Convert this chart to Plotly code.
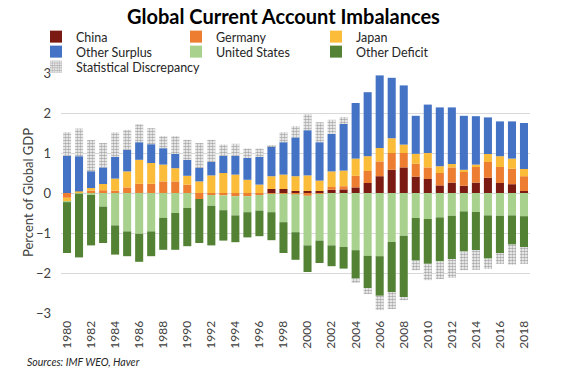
import plotly.graph_objects as go

years = list(range(1980, 2019))

china = [0, 0, 0, 0, 0, 0, 0, 0, 0, 0, 0, 0, 0, 0, 0, 0, 0,
         0.1, 0.1, 0.05, 0.05, 0.05, 0.08, 0.09, 0.14, 0.25, 0.42, 0.58, 0.64,
         0.41, 0.35, 0.19, 0.26, 0.18, 0.26, 0.38, 0.25, 0.22, 0.05]
germany = [-0.12, 0.01, 0.06, 0.07, 0.06, 0.14, 0.23, 0.23, 0.29, 0.29, 0.21,
           -0.15, -0.05, -0.06, -0.08, -0.08, -0.05, -0.02, -0.02, -0.03, -0.07,
           -0.02, 0.07, 0.08, 0.29, 0.3, 0.37, 0.42, 0.36, 0.32, 0.29, 0.31,
           0.38, 0.36, 0.39, 0.395, 0.4, 0.39, 0.37]
japan = [-0.09, 0.03, 0.065, 0.155, 0.3, 0.4, 0.6, 0.52, 0.42, 0.33, 0.22,
         0.29, 0.44, 0.5, 0.46, 0.33, 0.21, 0.32, 0.36, 0.37, 0.39, 0.26, 0.39,
         0.39, 0.43, 0.37, 0.335, 0.37, 0.21, 0.25, 0.36, 0.17, 0.085, 0.04,
         0.06, 0.2, 0.27, 0.25, 0.18]
other_surplus = [0.93, 0.88, 0.42, 0.415, 0.545, 0.54, 0.44, 0.47, 0.41, 0.36,
                 0.4, 0.335, 0.335, 0.43, 0.47, 0.545, 0.69, 0.75, 0.81, 0.97,
                 1.13, 0.96, 0.94, 1.17, 1.39, 1.6, 1.815, 1.51, 1.48, 0.95,
                 1.21, 1.47, 1.415, 1.35, 1.21, 0.915, 0.87, 0.93, 1.15]
united_states = [-0.02, -0.02, -0.05, -0.34, -0.81, -0.96, -1.02, -0.96, -0.62,
                 -0.5, -0.375, 0.0, -0.27, -0.37, -0.48, -0.4, -0.39, -0.46,
                 -0.71, -0.95, -1.24, -1.17, -1.31, -1.35, -1.43, -1.57, -1.58,
                 -1.225, -1.07, -0.625, -0.65, -0.61, -0.57, -0.46, -0.475,
                 -0.56, -0.57, -0.56, -0.58]
other_deficit = [-1.27, -1.59, -1.26, -0.91, -0.73, -0.62, -0.7, -0.62, -0.8,
                 -0.92, -0.955, -1.1, -0.99, -0.76, -0.67, -0.63, -0.64, -0.7,
                 -0.77, -0.69, -0.665, -0.56, -0.52, -0.54, -0.71, -0.805, -0.99,
                 -1.25, -1.53, -1.065, -1.12, -1.1, -1.08, -1.0, -0.955, -1.08,
                 -0.93, -0.73, -0.77]
stat_disc = [0.59, 0.69, 0.78, 0.61, 0.61, 0.5, 0.45, 0.4, 0.3, 0.44, 0.5,
             0.625, 0.555, 0.28, 0.3, 0.235, 0.21, 0.02, 0.25, 0.28, 0.4, 0.5,
             0.35, 0.17, -0.11, -0.15, -0.36, -0.425, -0.08, -0.24, -0.41,
             -0.44, -0.475, -0.47, -0.49, -0.26, -0.27, -0.5, -0.42]

tick_years = list(range(1980, 2019, 2))
tick_labels = [str(y) for y in tick_years]

# (name, values, colour, legend row)
series = [
    ("China", china, "#7B1A12", "legend"),
    ("Germany", germany, "#ED7D31", "legend"),
    ("Japan", japan, "#FBBC3A", "legend"),
    ("Other Surplus", other_surplus, "#4472C4", "legend2"),
    ("United States", united_states, "#A9D18E", "legend2"),
    ("Other Deficit", other_deficit, "#548235", "legend2"),
]

FONT = "Lato"
fig = go.Figure()
for name, vals, col, lg in series:
    fig.add_trace(go.Bar(x=years, y=vals, name=name, legend=lg,
                         marker=dict(color=col, line=dict(width=0))))
fig.add_trace(go.Bar(
    x=years, y=stat_disc, name="Statistical Discrepancy", legend="legend3",
    marker=dict(color="white", line=dict(width=0),
                pattern=dict(shape=".", fgcolor="#555555", bgcolor="white",
                             size=3, solidity=0.6))))


def leg(ypix, width=95):
    return dict(orientation="h", xref="container", yref="container",
                x=36 / 567, xanchor="left", y=1 - ypix / 380,
                yanchor="middle", entrywidth=width, entrywidthmode="pixels",
                font=dict(family=FONT, size=12.5, color="#262626"),
                itemwidth=30, traceorder="normal", bgcolor="rgba(0,0,0,0)")


fig.update_layout(
    width=567, height=380,
    barmode="relative", bargap=0.33,
    paper_bgcolor="white", plot_bgcolor="white",
    margin=dict(l=61, r=37, t=73, b=67, autoexpand=False),
    font=dict(family=FONT, size=12, color="#262626"),
    title=dict(text="<b>Global Current Account Imbalances</b>",
               x=0.5, xanchor="center", y=1 - 17 / 380, yanchor="middle",
               font=dict(family=FONT, size=20, color="#000000")),
    showlegend=True,
    legend=leg(37), legend2=leg(52), legend3=leg(67, 200),
    xaxis=dict(range=[1979.5, 2018.5], tickmode="array", tickvals=tick_years,
               ticktext=tick_labels, tickangle=-90, showgrid=False,
               zeroline=False, showline=False, automargin=False,
               ticks="outside", ticklen=2, tickcolor="rgba(0,0,0,0)",
               tickfont=dict(family=FONT, size=12, color="#404040")),
    yaxis=dict(range=[-3, 3], dtick=1, showgrid=True, gridcolor="#D9D9D9",
               gridwidth=1, zeroline=False, showline=False, automargin=False,
               ticks="", ticklabelstandoff=9,
               tickfont=dict(family=FONT, size=13, color="#404040")),
)

fig.add_annotation(text="Percent of Global GDP", xref="paper", yref="paper",
                   x=(28 - 61) / 469, xanchor="center", y=0.5,
                   yanchor="middle", textangle=-90, showarrow=False,
                   font=dict(family=FONT, size=13, color="#404040"))
fig.add_annotation(text="<i>Sources: IMF WEO, Haver</i>", xref="paper",
                   yref="paper", x=(25 - 61) / 469, xanchor="left",
                   y=-(362 - 313) / 240, yanchor="middle", showarrow=False,
                   font=dict(family=FONT, size=10.5, color="#262626"))

fig.write_html("out.html", config={"displayModeBar": False},
               post_script="document.body.style.margin='0';")
